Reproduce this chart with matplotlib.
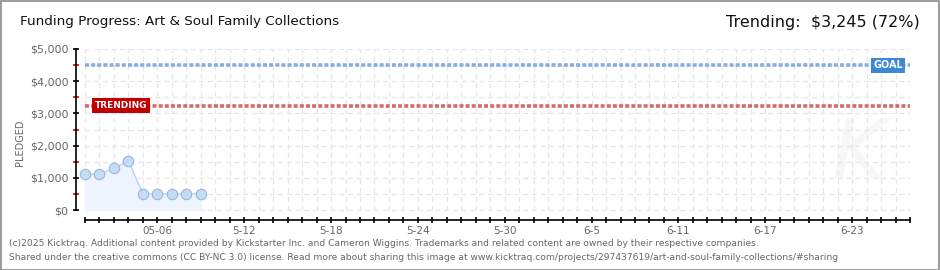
import numpy as np
import matplotlib.pyplot as plt
from matplotlib.patches import Rectangle

# kicktraq style funding chart
day_labels = ["05-06", "5-12", "5-18", "5-24", "5-30", "6-5", "6-11", "6-17", "6-23"]
label_days = [5, 11, 17, 23, 29, 35, 41, 47, 53]
n_days = 58  # 05-01 .. 06-27

pledged_days = [0, 1, 2, 3, 4, 5, 6, 7, 8]
pledged = [1110, 1110, 1300, 1520, 500, 500, 500, 500, 500]

goal = 4500
trending = 3245
trending_pct = 72

W, H = 940, 270
fig = plt.figure(figsize=(W / 100, H / 100), dpi=100)
fig.patch.set_facecolor("white")

# outer border
fig.add_artist(Rectangle((0.5 / W, 0.5 / H), 1 - 1.5 / W, 1 - 1.5 / H, transform=fig.transFigure,
                         fill=False, edgecolor="#8a8a8a", linewidth=1.2))

def px(x0, y0, x1, y1):
    return [x0 / W, 1 - y1 / H, (x1 - x0) / W, (y1 - y0) / H]

ppd = (910 - 85) / (n_days - 1)
ppk = (210 - 49) / 5000
xl = -(85 - 76) / ppd
yb = -(220 - 210) / ppk
ax = fig.add_axes(px(76, 49, 910, 220))
ax.set_xlim(xl, n_days - 1)
ax.set_ylim(yb, 5000)
ax.patch.set_alpha(0)

# watermark
ax.text(n_days - 4.5, 1700, "K", fontsize=60, fontstyle="italic", color="#f7f7f7",
        ha="center", va="center", zorder=0)

# grid
for d in range(n_days):
    ax.plot([d, d], [0, 5000], color="#e6e6e6", lw=0.9, ls=(0, (4, 3)), zorder=0)
for v in range(0, 5001, 500):
    ax.plot([0, n_days - 1], [v, v], color="#e6e6e6", lw=0.9, ls=(0, (4, 3)), zorder=0)

# goal / trending
ax.plot([0, n_days - 1], [goal, goal], color="#86aee0", lw=2.6, ls=(0, (1.1, 0.6)), zorder=2)
ax.plot([0, n_days - 1], [trending, trending], color="#d46a6a", lw=2.6, ls=(0, (1.1, 0.6)), zorder=2)

# pledged series
ax.fill_between(pledged_days, pledged, 0, color="#edf4fd", zorder=1)
ax.plot(pledged_days, pledged, color="#b7d4f3", lw=1, zorder=3)
ax.plot(pledged_days, pledged, "o", ms=7.5, mfc="#c4dcf7", mec="#9bb6d6", mew=0.8, zorder=4)

# labels on lines
ax.text(n_days - 1 - 0.5, goal, "GOAL", color="white", fontsize=7, fontweight="bold",
        ha="right", va="center", zorder=6,
        bbox=dict(boxstyle="square,pad=0.25", fc="#3c88d8", ec="none"))
ax.text(0.65, trending, "TRENDING", color="white", fontsize=6.4, fontweight="bold",
        ha="left", va="center", zorder=6,
        bbox=dict(boxstyle="square,pad=0.3", fc="#c00000", ec="none"))

# spines
for s in ["top", "right"]:
    ax.spines[s].set_visible(False)
ax.spines["left"].set_bounds(0, 5000)
ax.spines["bottom"].set_bounds(0, n_days - 1)
ax.spines["left"].set_linewidth(1.2)
ax.spines["bottom"].set_linewidth(1.2)

ax.set_yticks(range(0, 5001, 1000))
ax.set_yticklabels(["$0", "$1,000", "$2,000", "$3,000", "$4,000", "$5,000"])
ax.set_yticks(range(500, 5000, 1000), minor=True)
ax.tick_params(axis="y", which="major", direction="inout", length=5, width=1.2,
               labelsize=8, labelcolor="#666666", pad=3)
ax.tick_params(axis="y", which="minor", direction="inout", length=4, width=1.2, color="#dd0000")

ax.set_xticks(range(n_days), minor=True)
ax.set_xticks(label_days)
ax.set_xticklabels(day_labels)
ax.tick_params(axis="x", which="both", direction="inout", length=5, width=1.2,
               labelsize=7.5, labelcolor="#666666", pad=2)

fig.text(20 / W, 1 - 143 / H, "PLEDGED", rotation=90, fontsize=7, color="#666666",
         ha="center", va="center")

fig.text(20 / W, 1 - 22 / H, "Funding Progress: Art & Soul Family Collections",
         fontsize=9.7, color="#111111", ha="left", va="center")
fig.text(920 / W, 1 - 22 / H, f"Trending:  ${trending:,} ({trending_pct}%)",
         fontsize=11.5, color="#111111", ha="right", va="center")

fig.text(9 / W, 1 - 243 / H,
         "(c)2025 Kicktraq. Additional content provided by Kickstarter Inc. and Cameron Wiggins. "
         "Trademarks and related content are owned by their respective companies.",
         fontsize=6.6, color="#666666", ha="left", va="center")
fig.text(9 / W, 1 - 257 / H,
         "Shared under the creative commons (CC BY-NC 3.0) license. Read more about sharing this image at "
         "www.kicktraq.com/projects/297437619/art-and-soul-family-collections/#sharing",
         fontsize=6.6, color="#666666", ha="left", va="center")

fig.savefig("out.png", dpi=100)
